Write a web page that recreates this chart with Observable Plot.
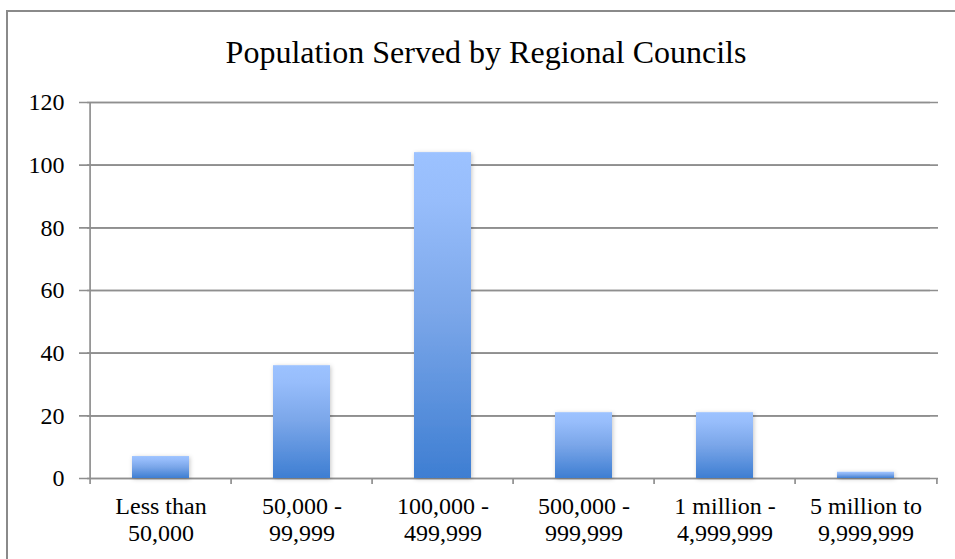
<!DOCTYPE html>
<html>
<head>
<meta charset="utf-8">
<script src="https://cdn.jsdelivr.net/npm/d3@7"></script>
<script src="https://cdn.jsdelivr.net/npm/@observablehq/plot@0.6"></script>
<style>
  html, body { margin: 0; padding: 0; background: #fff; }
  #wrap { position: relative; width: 955px; height: 559px; overflow: hidden; background: #fff; }
  #border { position: absolute; left: 6px; top: 10px; width: 1000px; height: 1000px; border: 2px solid #8a8a8a; box-sizing: border-box; }
  #title { position: absolute; left: 0; top: 32px; width: 972px; text-align: center; font-family: 'Liberation Serif', 'Times New Roman', serif; font-size: 32px; color: #000; line-height: 40px; white-space: nowrap; }
  #chart { position: absolute; left: 0; top: 0; }
  #chart svg text { fill: #000; font-family: 'Liberation Serif', 'Times New Roman', serif; }
</style>
</head>
<body>
<div id="wrap">
  <div id="border"></div>
  <div id="title">Population Served by Regional Councils</div>
  <div id="chart"></div>
</div>
<script>
const categories = ["Less than\n50,000", "50,000 -\n99,999", "100,000 -\n499,999", "500,000 -\n999,999", "1 million -\n4,999,999", "5 million to\n9,999,999"];
const councils = [7, 36, 104, 21, 21, 2];
const yTicks = [0, 20, 40, 60, 80, 100, 120];

const data = categories.map((c, i) => ({category: c, value: councils[i]}));

const W = 955, H = 559;
const mL = 87, mR = 17, mT = 102, mB = 81;
const bw = (W - mL - mR) / categories.length;
const grid = "#8f8f8f";

const plot = Plot.plot({
  width: W,
  height: H,
  marginLeft: mL,
  marginRight: mR,
  marginTop: mT,
  marginBottom: mB,
  style: {background: "transparent", fontFamily: "'Liberation Serif', 'Times New Roman', serif", fontSize: "24px", color: "#000", overflow: "visible"},
  x: {domain: categories, padding: 0, axis: null},
  y: {domain: [0, 120], axis: null},
  marks: [
    Plot.ruleY(yTicks, {y: d => d, stroke: grid, strokeWidth: 1.7}),
    Plot.ruleY(yTicks, {y: d => d, stroke: grid, strokeWidth: 1.7, dx: -8}),
    Plot.ruleX(categories, {x: d => d, y1: (d, i) => i === 0 ? 120 : 0, y2: -1.9, dx: -bw / 2, stroke: grid, strokeWidth: 1.7}),
    Plot.ruleX([categories[categories.length - 1]], {x: d => d, y1: 0, y2: -1.9, dx: bw / 2, stroke: grid, strokeWidth: 1.7}),
    Plot.barY(data, {x: "category", y: "value", fill: "url(#barGrad)", insetLeft: 42, insetRight: 42}),
    Plot.text(yTicks, {y: d => d, text: d => String(d), frameAnchor: "left", textAnchor: "end", dx: -23, fill: "#000", fontSize: 24}),
    Plot.text(categories, {x: d => d, y: 0, text: d => d, lineAnchor: "top", dy: 16, lineHeight: 1.14, fill: "#000", fontSize: 24})
  ]
});

const svg = d3.select(plot);
const defs = svg.insert("defs", ":first-child");
const grad = defs.append("linearGradient").attr("id", "barGrad").attr("x1", 0).attr("y1", 0).attr("x2", 0).attr("y2", 1);
grad.append("stop").attr("offset", "0%").attr("stop-color", "#9cc2ff");
grad.append("stop").attr("offset", "15%").attr("stop-color", "#97bdfb");
grad.append("stop").attr("offset", "50%").attr("stop-color", "#7aa6e9");
grad.append("stop").attr("offset", "100%").attr("stop-color", "#3e7ed2");
const filt = defs.append("filter").attr("id", "barShadow").attr("x", "-20%").attr("y", "-20%").attr("width", "140%").attr("height", "140%");
filt.append("feDropShadow").attr("dx", 1).attr("dy", 1).attr("stdDeviation", 2).attr("flood-color", "#000").attr("flood-opacity", 0.22);
svg.selectAll('g[aria-label="bar"]').attr("filter", "url(#barShadow)");

document.getElementById("chart").appendChild(plot);
</script>
</body>
</html>
